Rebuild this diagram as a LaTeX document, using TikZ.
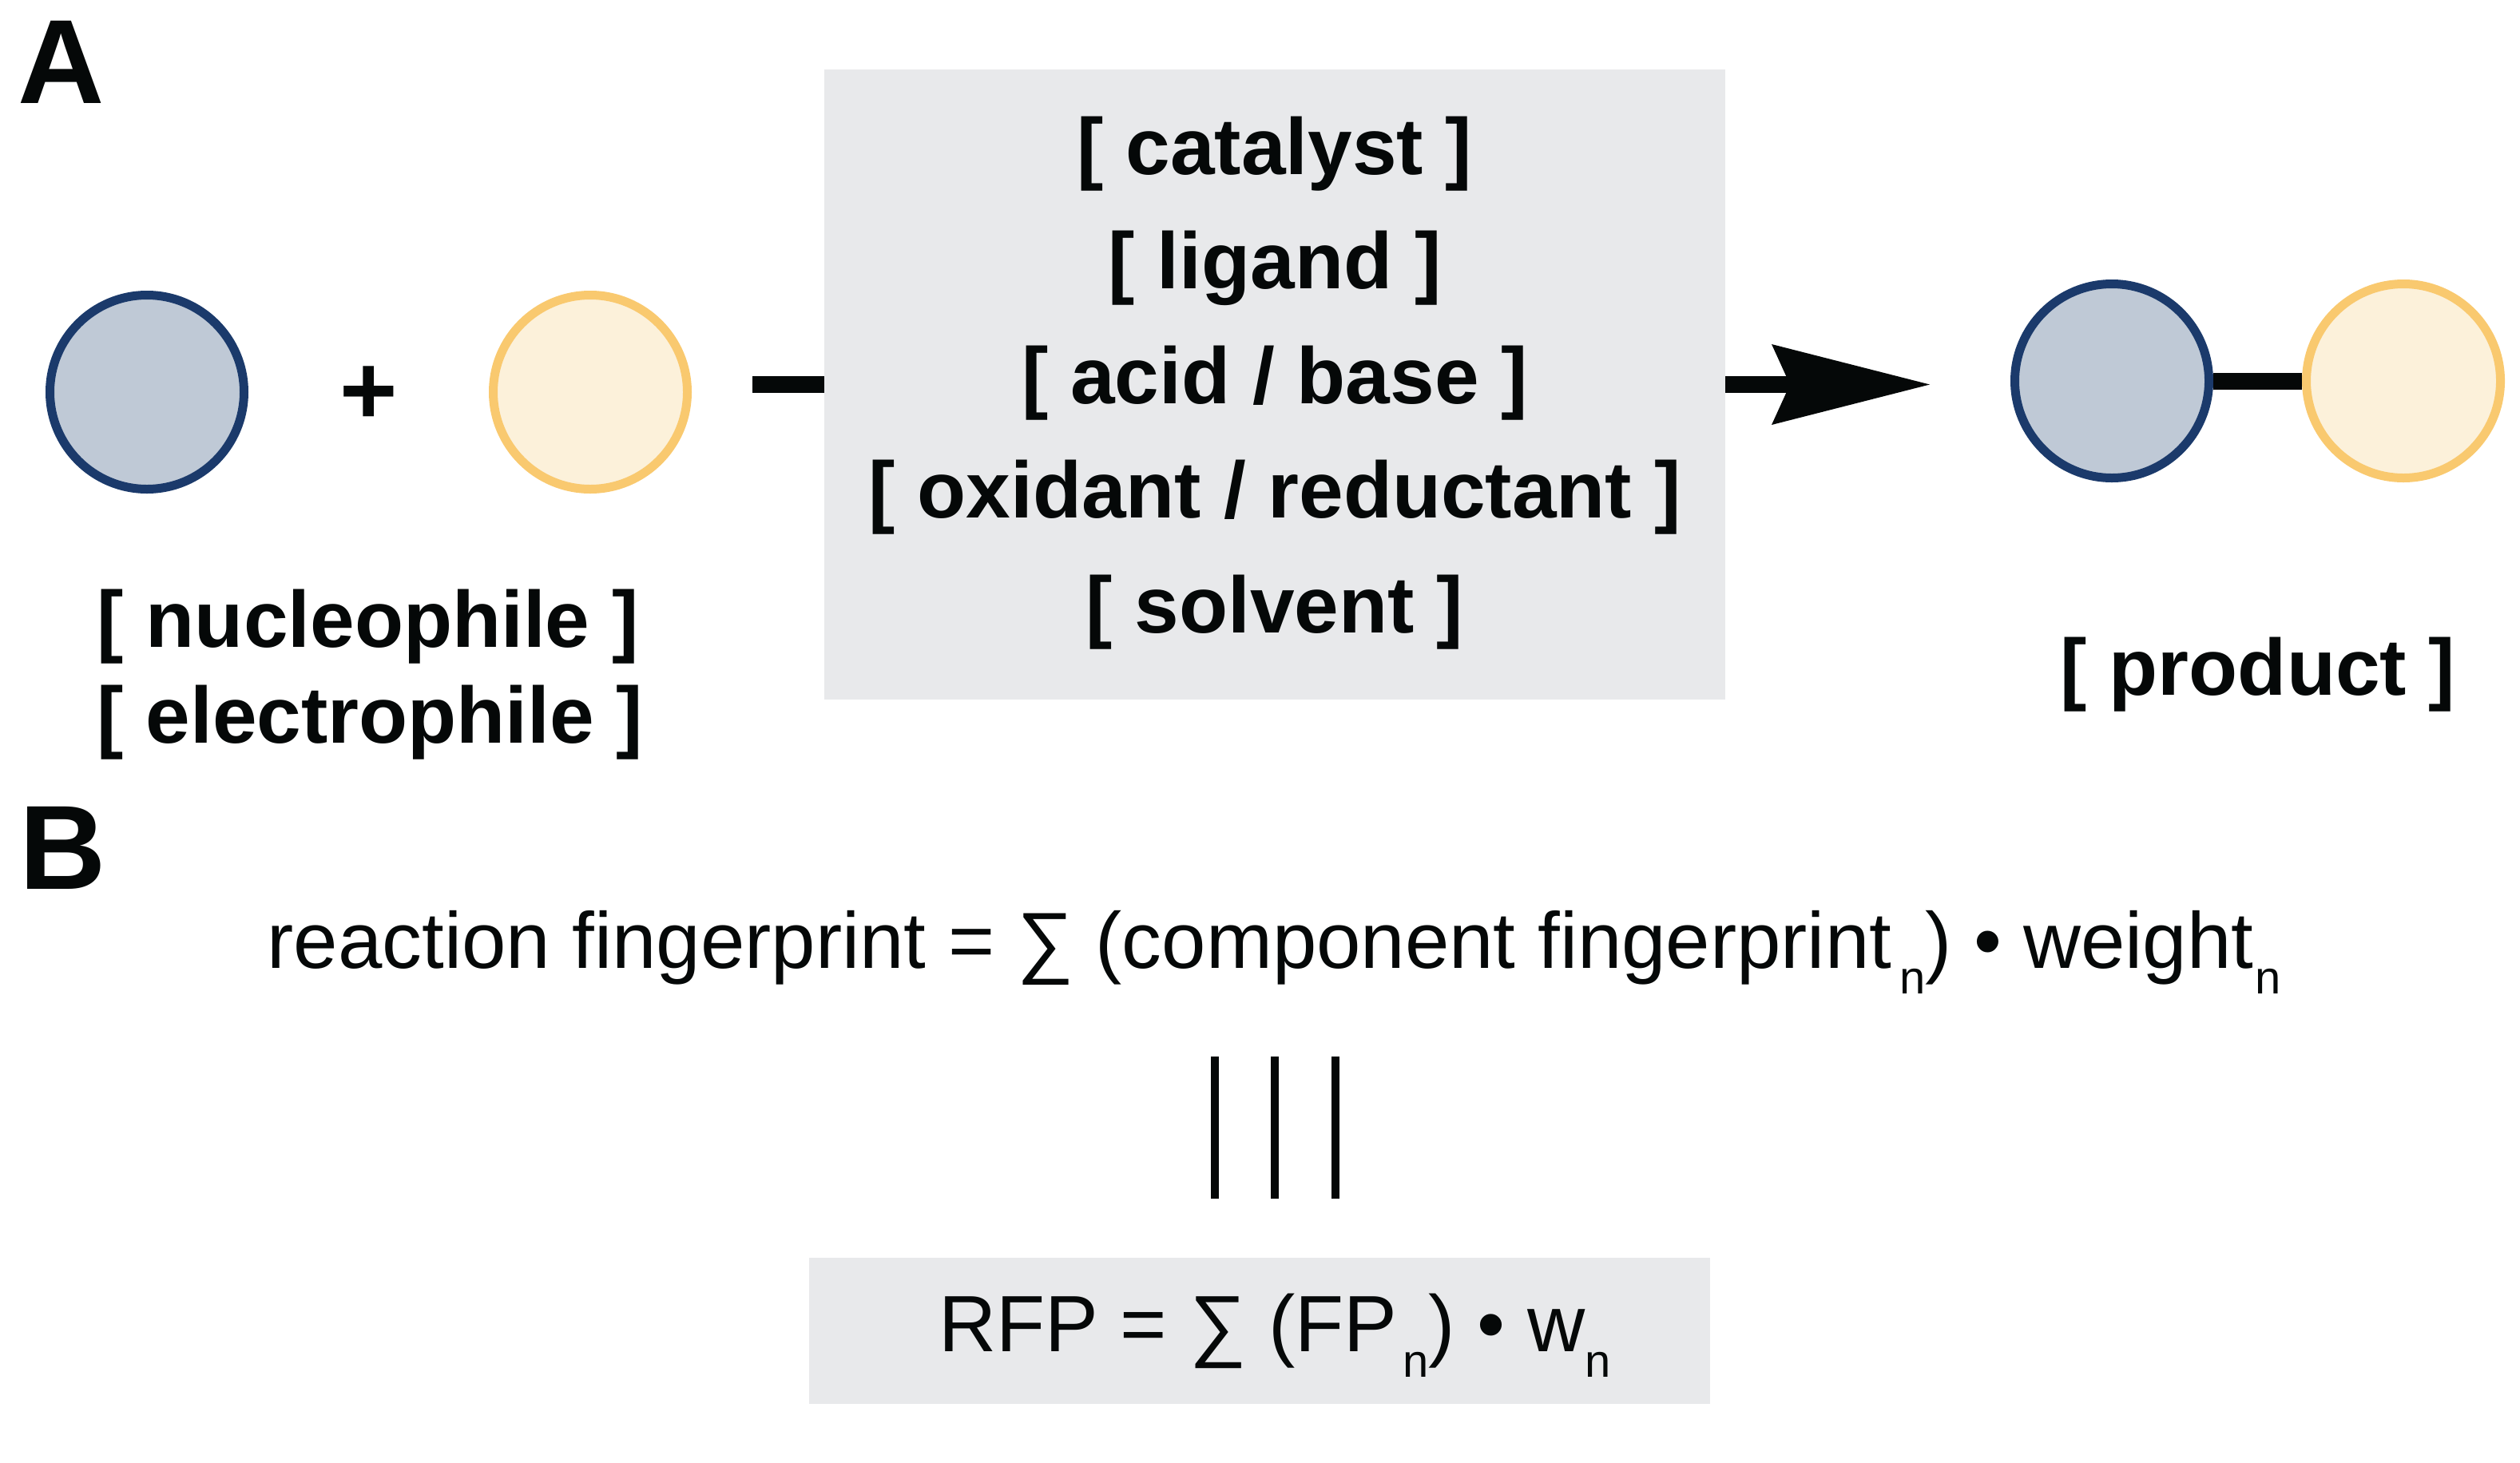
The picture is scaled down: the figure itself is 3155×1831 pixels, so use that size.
\documentclass[tikz,border=0pt]{standalone}
\usepackage{fontspec}
\setmainfont{Liberation Sans}
\usetikzlibrary{arrows.meta}
\definecolor{bfill}{HTML}{BFC9D6}
\definecolor{bline}{HTML}{1B3A6B}
\definecolor{yfill}{HTML}{FCF1DA}
\definecolor{yline}{HTML}{F9C96F}
\definecolor{boxgray}{HTML}{E8E9EB}
\definecolor{ink}{HTML}{050808}
\newcommand{\subsn}[1][0pt]{\kern#1\raisebox{-8.2pt}{\fontsize{14.5pt}{14.5pt}\selectfont n}}
\begin{document}
\begin{tikzpicture}[x=0.25pt,y=-0.25pt,
  ball/.style={circle, minimum size=60.75pt, inner sep=0pt, line width=2.75pt},
  blueball/.style={ball, draw=bline, fill=bfill},
  yellowball/.style={ball, draw=yline, fill=yfill},
  lbl/.style={inner sep=0pt, anchor=base, font=\fontsize{25pt}{30pt}\selectfont\bfseries, text=ink},
  panel/.style={inner sep=0pt, anchor=base west, font=\fontsize{37.5pt}{40pt}\selectfont\bfseries, text=ink},
  fml/.style={inner sep=0pt, anchor=base, font=\fontsize{25pt}{30pt}\selectfont, text=ink},
  bond/.style={line width=5.25pt, draw=ink},
  eqline/.style={line width=2.5pt, draw=ink},
  graybox/.style={fill=boxgray, draw=none, inner sep=0pt, outer sep=0pt}
]
\useasboundingbox (0,0) rectangle (3155,1831);
% boxes
\node[graybox, minimum width=282pt, minimum height=197.25pt] (cond) at (1596,481.5) {};
\node[graybox, minimum width=282pt, minimum height=45.75pt] (rfpbox) at (1577,1666.5) {};
% reactants and product
\node[blueball] (nuc) at (184,491) {};
\node[yellowball] (ele) at (739,491) {};
\node[blueball] (pb) at (2644,477) {};
\node[yellowball] (py) at (3009,477) {};
\node[lbl, font=\fontsize{31pt}{31pt}\selectfont\bfseries] (plus) at (462,531) {+};
% connectors
\coordinate (dashL) at (942,481.5);
\draw[bond] (dashL) -- (cond.west);
\draw[bond, -{Stealth[length=49.5pt,width=25.25pt,inset=5.75pt,line width=0pt]}, shorten >=25.25pt] (cond.east) -- (cond.east -| pb.west);
\draw[bond] (pb.east) -- (py.west);
% panel labels
\node[panel] (A) at (22,129) {A};
\node[panel] (B) at (24,1113) {B};
% condition labels
\node[lbl] (cat) at (1596,218) {[ catalyst ]};
\node[lbl] (lig) at (1596,361) {[ ligand ]};
\node[lbl] (acb) at (1596,505) {[ acid / base ]};
\node[lbl] (oxr) at (1596,648) {[ oxidant / reductant ]};
\node[lbl] (sol) at (1596,792) {[ solvent ]};
% component labels
\node[lbl, anchor=base west] (nucl) at (121,810) {[ nucleophile ]};
\node[lbl, anchor=base west] (elel) at (121,930) {[ electrophile ]};
\node[lbl] (prod) at (2827,870) {[ product ]};
% formulas
\node[fml, font=\fontsize{24.9pt}{30pt}\selectfont] (rxn) at (1595.5,1212) {reaction fingerprint = ∑ (component fingerprint\subsn[2.4pt]) • weight\subsn[0.6pt]};
\draw[eqline] (1521,1323) -- (1521,1501);
\draw[eqline] (1596,1323) -- (1596,1501);
\draw[eqline] (1672,1323) -- (1672,1501);
\node[fml] (rfp) at (1596,1692) {RFP = ∑ (FP\subsn[1.75pt]) • w\subsn};
\end{tikzpicture}
\end{document}
